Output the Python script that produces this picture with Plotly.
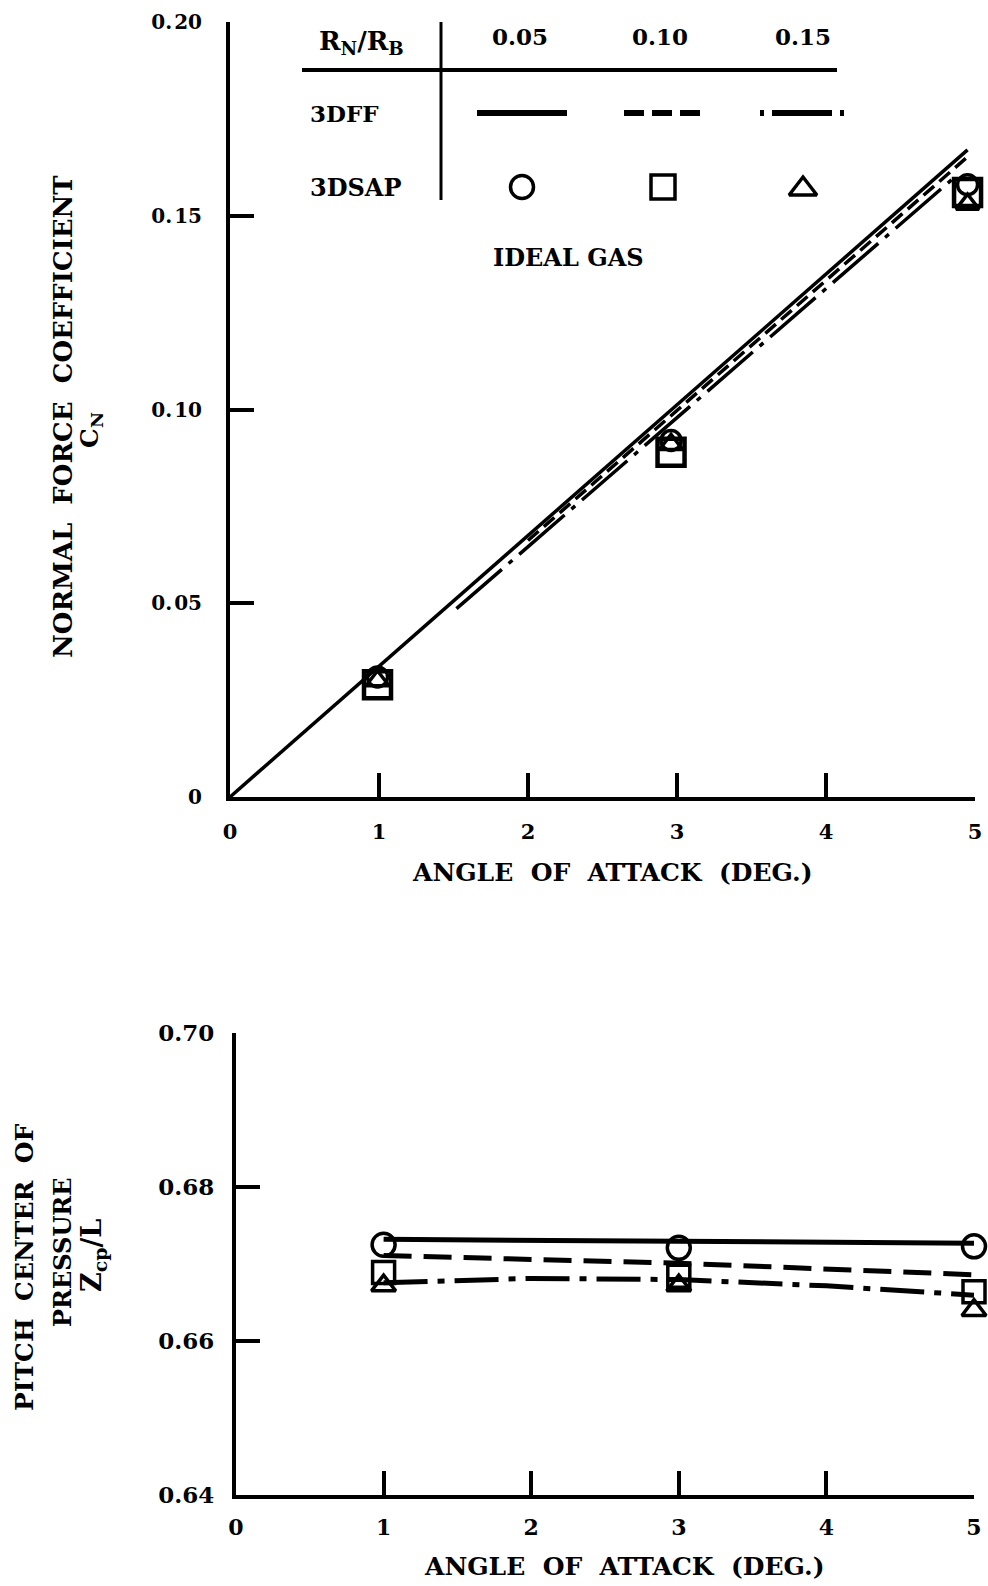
import plotly.graph_objects as go

# ---------------- data ----------------
# Top panel: normal force coefficient C_N vs angle of attack
sap_alpha_top = [0.99, 2.96, 4.95]
cn_sap_005 = [0.031, 0.092, 0.158]   # circles  R_N/R_B = 0.05
cn_sap_010 = [0.029, 0.089, 0.156]   # squares  R_N/R_B = 0.10
cn_sap_015 = [0.030, 0.091, 0.153]   # triangles R_N/R_B = 0.15

ff_alpha_005 = [0.0, 4.95]
ff_cn_005 = [0.0, 0.167]
ff_alpha_010 = [2.0, 4.95]
ff_cn_010 = [0.0662, 0.1652]
ff_alpha_015 = [1.52, 4.85]
ff_cn_015 = [0.0486, 0.1595]

# Bottom panel: pitch center of pressure Z_cp/L vs angle of attack
sap_alpha = [1, 3, 5]
zcp_sap_005 = [0.6725, 0.6721, 0.6723]
zcp_sap_010 = [0.6689, 0.6684, 0.6664]
zcp_sap_015 = [0.6672, 0.6672, 0.6640]

zff_alpha_005 = [1, 3, 5]
zcp_ff_005 = [0.6732, 0.6730, 0.6727]
zff_alpha_010 = [1, 3, 5]
zcp_ff_010 = [0.6711, 0.6701, 0.6686]
zff_alpha_015 = [1, 2, 3, 4, 5]
zcp_ff_015 = [0.66755, 0.66813, 0.66798, 0.66716, 0.66595]

x_ticks = [0, 1, 2, 3, 4, 5]
cn_ticks = [0, 0.05, 0.10, 0.15, 0.20]
cn_ticktext = ["0", "0.\u200a05", "0.\u200a10", "0.\u200a15", "0.\u200a20"]
zcp_ticks = [0.64, 0.66, 0.68, 0.70]
zcp_ticktext = ["0.64", "0.66", "0.68", "0.70"]

# legend table
ratio_labels = ["0.05", "0.10", "0.15"]

# ---------------- figure ----------------
W, H = 988, 1586
FONT = "DejaVu Serif"
BLK = "black"
NB = "\u00a0"

fig = go.Figure()

def px_x(p):
    return p / W

def px_y(p):
    return 1 - p / H

# top panel traces
fig.add_trace(go.Scatter(x=ff_alpha_005, y=ff_cn_005, mode="lines",
                         line=dict(color=BLK, width=3.5), xaxis="x", yaxis="y"))
fig.add_trace(go.Scatter(x=ff_alpha_010, y=ff_cn_010, mode="lines",
                         line=dict(color=BLK, width=3.5, dash="14px,7px"), xaxis="x", yaxis="y"))
fig.add_trace(go.Scatter(x=ff_alpha_015, y=ff_cn_015, mode="lines",
                         line=dict(color=BLK, width=3.5, dash="60px,9px,5px,9px"), xaxis="x", yaxis="y"))

def mk(sym, size, lw):
    return dict(symbol=sym, size=size, color=BLK, line=dict(width=lw, color=BLK))

fig.add_trace(go.Scatter(x=sap_alpha_top, y=cn_sap_010, mode="markers", cliponaxis=False,
                         marker=mk("square-open", 27, 4.5), xaxis="x", yaxis="y"))
fig.add_trace(go.Scatter(x=sap_alpha_top, y=cn_sap_015, mode="markers", cliponaxis=False,
                         marker=mk("triangle-up-open", 20, 3.5), xaxis="x", yaxis="y"))
fig.add_trace(go.Scatter(x=sap_alpha_top, y=cn_sap_005, mode="markers", cliponaxis=False,
                         marker=mk("circle-open", 20, 3.5), xaxis="x", yaxis="y"))

# bottom panel traces
fig.add_trace(go.Scatter(x=zff_alpha_005, y=zcp_ff_005, mode="lines",
                         line=dict(color=BLK, width=5), xaxis="x2", yaxis="y2"))
fig.add_trace(go.Scatter(x=zff_alpha_010, y=zcp_ff_010, mode="lines",
                         line=dict(color=BLK, width=5, dash="28px,12px"), xaxis="x2", yaxis="y2"))
fig.add_trace(go.Scatter(x=zff_alpha_015, y=zcp_ff_015, mode="lines",
                         line=dict(color=BLK, width=5, dash="44px,10px,7px,10px"), xaxis="x2", yaxis="y2"))
fig.add_trace(go.Scatter(x=sap_alpha, y=zcp_sap_005, mode="markers", cliponaxis=False,
                         marker=mk("circle-open", 23, 3.5), xaxis="x2", yaxis="y2"))
fig.add_trace(go.Scatter(x=sap_alpha, y=zcp_sap_010, mode="markers", cliponaxis=False,
                         marker=mk("square-open", 22, 3.5), xaxis="x2", yaxis="y2"))
fig.add_trace(go.Scatter(x=sap_alpha, y=zcp_sap_015, mode="markers", cliponaxis=False,
                         marker=mk("triangle-up-open", 21, 3.5), xaxis="x2", yaxis="y2"))

# legend-table samples on a pixel-coordinate overlay axis
leg_line_y = 113
leg_sym_y = 187
fig.add_trace(go.Scatter(x=[477, 567], y=[leg_line_y] * 2, mode="lines",
                         line=dict(color=BLK, width=6), xaxis="x3", yaxis="y3"))
fig.add_trace(go.Scatter(x=[624, 701], y=[leg_line_y] * 2, mode="lines",
                         line=dict(color=BLK, width=6, dash="20px,8px"), xaxis="x3", yaxis="y3"))
fig.add_trace(go.Scatter(x=[760, 847], y=[leg_line_y] * 2, mode="lines",
                         line=dict(color=BLK, width=6, dash="4px,8px,60px,8px"), xaxis="x3", yaxis="y3"))
fig.add_trace(go.Scatter(x=[522], y=[leg_sym_y], mode="markers", marker=mk("circle-open", 23, 3.5),
                         xaxis="x3", yaxis="y3"))
fig.add_trace(go.Scatter(x=[663], y=[leg_sym_y], mode="markers", marker=mk("square-open", 24, 3.5),
                         xaxis="x3", yaxis="y3"))
fig.add_trace(go.Scatter(x=[803], y=[leg_sym_y + 2], mode="markers", marker=mk("triangle-up-open", 24, 3.5),
                         xaxis="x3", yaxis="y3"))

axis_common = dict(showline=True, linewidth=4, linecolor=BLK, ticks="inside",
                   tickwidth=3.5, tickcolor=BLK, ticklen=24, showgrid=False,
                   zeroline=False, fixedrange=True)

fig.update_layout(
    width=W, height=H,
    margin=dict(l=0, r=0, t=0, b=0, autoexpand=False),
    paper_bgcolor="white", plot_bgcolor="rgba(0,0,0,0)",
    showlegend=False,
    font=dict(family=FONT, color=BLK),
    xaxis=dict(domain=[px_x(230), px_x(975)], range=[0, 5], anchor="y",
               tickvals=x_ticks, ticktext=[str(v) for v in x_ticks],
               tickfont=dict(family=FONT, size=21, weight="bold"),
               ticklabelstandoff=13, **axis_common),
    yaxis=dict(domain=[px_y(797), px_y(22)], range=[0, 0.20], anchor="x",
               tickvals=cn_ticks, ticktext=cn_ticktext,
               tickfont=dict(family=FONT, size=20, weight="bold"),
               ticklabelstandoff=20, **axis_common),
    xaxis2=dict(domain=[px_x(236), px_x(974)], range=[0, 5], anchor="y2",
                tickvals=x_ticks, ticktext=[str(v) for v in x_ticks],
                tickfont=dict(family=FONT, size=22, weight="bold"),
                ticklabelstandoff=10, **axis_common),
    yaxis2=dict(domain=[px_y(1495), px_y(1033)], range=[0.64, 0.70], anchor="x2",
                tickvals=zcp_ticks, ticktext=zcp_ticktext,
                tickfont=dict(family=FONT, size=23, weight="bold"),
                ticklabelstandoff=13, **axis_common),
    xaxis3=dict(domain=[0, 1], range=[0, W], anchor="y3", visible=False, fixedrange=True),
    yaxis3=dict(domain=[0, 1], range=[H, 0], anchor="x3", visible=False, fixedrange=True),
)

# legend table rules
fig.add_shape(type="line", xref="x3", yref="y3", x0=302, x1=837, y0=70, y1=70,
              line=dict(color=BLK, width=4))
fig.add_shape(type="line", xref="x3", yref="y3", x0=441, x1=441, y0=22, y1=200,
              line=dict(color=BLK, width=3))

def ann(x, y, text, size, angle=0, xanchor="center", yanchor="middle"):
    fig.add_annotation(x=x, y=y, xref="x3", yref="y3", text=text, showarrow=False,
                       textangle=angle, xanchor=xanchor, yanchor=yanchor,
                       font=dict(family=FONT, size=size, color=BLK, weight="bold"))

ann(361, 42, "R<sub>N</sub>/R<sub>B</sub>", 26)
for xp, lab in zip([520, 660, 803], ratio_labels):
    ann(xp, 36, lab, 23)
ann(308, leg_line_y, "3DFF", 23, xanchor="left")
ann(308, leg_sym_y, "3DSAP", 24, xanchor="left")
ann(568, 257, "IDEAL" + NB + "GAS", 24)

# axis titles
xt = "ANGLE" + NB * 2 + "OF" + NB * 2 + "ATTACK" + NB * 2 + "(DEG.)"
ann(612, 872, xt, 25)
ann(624, 1566, xt, 25)
ann(63, 417, "NORMAL" + NB * 2 + "FORCE" + NB * 2 + "COEFFICIENT", 26, angle=-90)
ann(91, 430, "C<sub>N</sub>", 25, angle=-90)
ann(24, 1268, "PITCH" + NB * 2 + "CENTER" + NB * 2 + "OF", 25, angle=-90)
ann(62, 1252, "PRESSURE", 24, angle=-90)
ann(93, 1256, "Z<sub>cp</sub>/L", 27, angle=-90)

fig.write_html("out.html", config={"displayModeBar": False},
               post_script="document.body.style.margin='0';")
